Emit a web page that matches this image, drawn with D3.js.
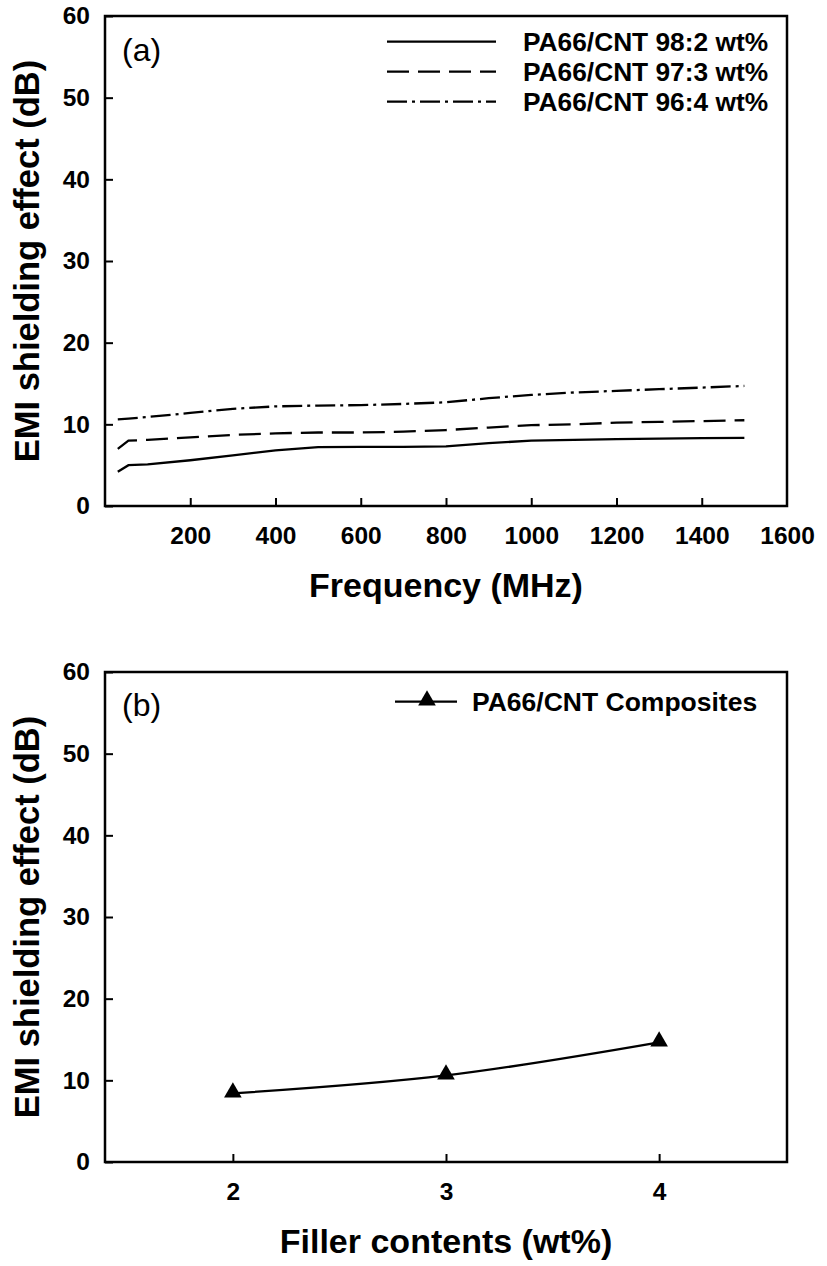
<!DOCTYPE html>
<html>
<head>
<meta charset="utf-8">
<script src="https://cdn.jsdelivr.net/npm/d3@7"></script>
<style>
  html, body { margin: 0; padding: 0; background: #fff; }
  svg { display: block; }
  text { font-family: "Liberation Sans", Arial, sans-serif; fill: #000; }
</style>
</head>
<body>
<svg id="chart" width="827" height="1266"></svg>
<script>
// ---------- Data ----------
const freqs = [30, 55, 100, 200, 300, 400, 500, 600, 700, 800, 900, 1000, 1100, 1200, 1300, 1400, 1500];
const series98_2 = [4.2, 5.0, 5.1, 5.6, 6.2, 6.8, 7.2, 7.25, 7.25, 7.3, 7.7, 8.0, 8.1, 8.2, 8.25, 8.3, 8.35];
const series97_3 = [7.0, 8.0, 8.1, 8.4, 8.7, 8.9, 9.0, 9.0, 9.1, 9.3, 9.6, 9.9, 10.0, 10.2, 10.3, 10.4, 10.5];
const series96_4 = [10.6, 10.7, 10.9, 11.4, 11.9, 12.2, 12.3, 12.35, 12.5, 12.7, 13.2, 13.6, 13.9, 14.1, 14.3, 14.5, 14.7];
const seriesNames = ["PA66/CNT 98:2 wt%", "PA66/CNT 97:3 wt%", "PA66/CNT 96:4 wt%"];
const freqTicks = [200, 400, 600, 800, 1000, 1200, 1400, 1600];
const yTicks = [0, 10, 20, 30, 40, 50, 60];

const fillerContents = [2, 3, 4];
const compositeSE = [8.4, 10.6, 14.65];
const fillerTicks = [2, 3, 4];
const compositeName = "PA66/CNT Composites";

// ---------- Layout ----------
const svg = d3.select("#chart");
const L = 105, R = 787;
const LW = 2.3;

function frame(g, x0, y0, x1, y1) {
  g.append("rect").attr("x", x0).attr("y", y0).attr("width", x1 - x0).attr("height", y1 - y0)
    .attr("fill", "none").attr("stroke", "#000").attr("stroke-width", 2.5);
}

function yAxis(g, y, yTitle) {
  const ax = d3.axisLeft(y).tickValues(yTicks).tickSizeInner(-8).tickSizeOuter(0).tickPadding(15).tickFormat(d3.format("d"));
  const a = g.append("g").attr("transform", `translate(${L},0)`).call(ax);
  a.select(".domain").remove();
  a.selectAll(".tick line").attr("stroke", "#000").attr("stroke-width", 2);
  a.selectAll(".tick text").attr("font-size", 24.5).attr("font-weight", "bold")
    .attr("font-family", "'Liberation Sans', Arial, sans-serif").attr("fill", "#000");
  const [r0, r1] = y.range();
  g.append("text").attr("transform", `translate(39,${(r0 + r1) / 2}) rotate(-90)`)
    .attr("text-anchor", "middle").attr("font-size", 34.5).attr("font-weight", "bold").text(yTitle);
}

function xAxis(g, x, yPos, ticks, fmt, title) {
  const ax = d3.axisBottom(x).tickValues(ticks).tickSizeInner(-8).tickSizeOuter(0).tickPadding(21).tickFormat(fmt);
  const a = g.append("g").attr("transform", `translate(0,${yPos})`).call(ax);
  a.select(".domain").remove();
  a.selectAll(".tick line").attr("stroke", "#000").attr("stroke-width", 2)
    .attr("display", d => (x(d) >= R - 1 ? "none" : null));
  a.selectAll(".tick text").attr("font-size", 24.5).attr("font-weight", "bold")
    .attr("font-family", "'Liberation Sans', Arial, sans-serif").attr("fill", "#000");
  g.append("text").attr("x", (L + R) / 2).attr("y", yPos + 91)
    .attr("text-anchor", "middle").attr("font-size", 34).attr("font-weight", "bold").text(title);
}

// ---------- Panel (a) ----------
{
  const T = 16, B = 506;
  const g = svg.append("g");
  const x = d3.scaleLinear().domain([0, 1600]).range([L, R]);
  const y = d3.scaleLinear().domain([0, 60]).range([B, T]);

  const styles = [null, "22,9", "20,5,3,5"];
  const all = [series98_2, series97_3, series96_4];
  const line = d3.line().x(d => x(d[0])).y(d => y(d[1]));
  all.forEach((s, i) => {
    g.append("path").datum(freqs.map((f, k) => [f, s[k]]))
      .attr("d", line).attr("fill", "none").attr("stroke", "#000").attr("stroke-width", LW)
      .attr("stroke-dasharray", styles[i]);
  });

  frame(g, L, T, R, B);
  yAxis(g, y, "EMI shielding effect (dB)");
  xAxis(g, x, B, freqTicks, d3.format("d"), "Frequency (MHz)");

  g.append("text").attr("x", 122).attr("y", 61).attr("font-size", 32).text("(a)");

  // legend
  const rows = [41.7, 71.7, 101.7];
  seriesNames.forEach((n, i) => {
    g.append("line").attr("x1", 387).attr("x2", 496).attr("y1", rows[i]).attr("y2", rows[i])
      .attr("stroke", "#000").attr("stroke-width", LW).attr("stroke-dasharray", styles[i]);
    g.append("text").attr("x", 523).attr("y", rows[i] + 9.5)
      .attr("font-size", 26.3).attr("font-weight", "bold").text(n);
  });
}

// ---------- Panel (b) ----------
{
  const T = 672, B = 1162;
  const g = svg.append("g");
  const x = d3.scaleLinear().domain([1.4, 4.6]).range([L, R]);
  const y = d3.scaleLinear().domain([0, 60]).range([B, T]);

  const pts = fillerContents.map((f, k) => [f, compositeSE[k]]);
  g.append("path").datum(pts)
    .attr("d", d3.line().x(d => x(d[0])).y(d => y(d[1])).curve(d3.curveNatural))
    .attr("fill", "none").attr("stroke", "#000").attr("stroke-width", LW);
  const tri = d3.symbol().type(d3.symbolTriangle).size(135);
  g.selectAll(".pt").data(pts).enter().append("path")
    .attr("transform", d => `translate(${x(d[0])},${y(d[1]) - 1})`)
    .attr("d", tri).attr("fill", "#000");

  frame(g, L, T, R, B);
  yAxis(g, y, "EMI shielding effect (dB)");
  xAxis(g, x, B, fillerTicks, d3.format("d"), "Filler contents (wt%)");

  g.append("text").attr("x", 122).attr("y", 716).attr("font-size", 32).text("(b)");

  // legend
  g.append("line").attr("x1", 395).attr("x2", 457).attr("y1", 701.7).attr("y2", 701.7)
    .attr("stroke", "#000").attr("stroke-width", LW);
  g.append("path").attr("transform", "translate(427,700.5)").attr("d", tri).attr("fill", "#000");
  g.append("text").attr("x", 472).attr("y", 710.5).attr("font-size", 26.5).attr("font-weight", "bold").text(compositeName);
}
</script>
</body>
</html>
